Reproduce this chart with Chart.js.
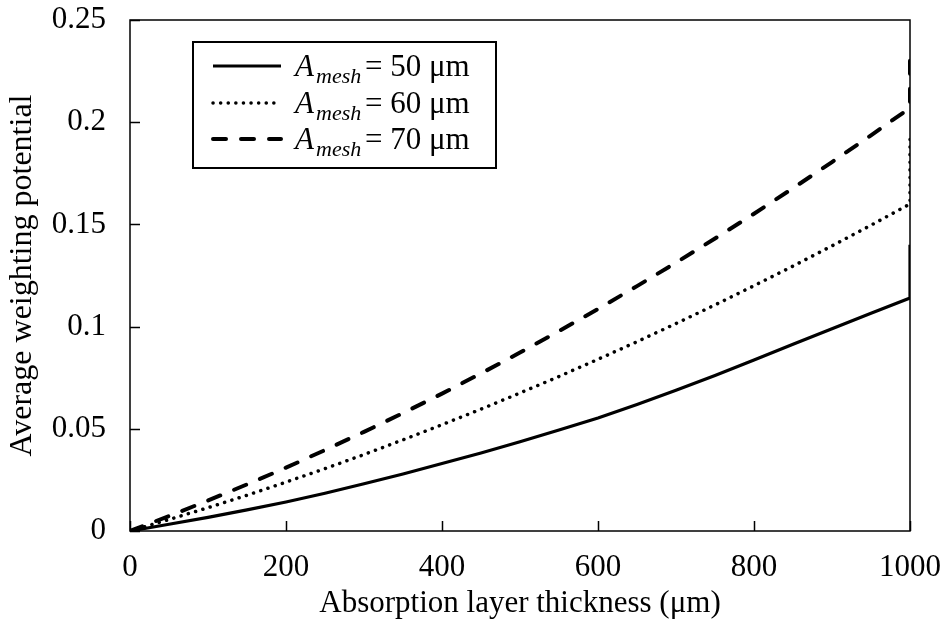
<!DOCTYPE html>
<html>
<head>
<meta charset="utf-8">
<script src="https://cdn.jsdelivr.net/npm/chart.js@4.4.1/dist/chart.umd.min.js"></script>
<style>
  html, body { margin: 0; padding: 0; background: #fff; }
  #wrap { width: 948px; height: 622px; }
</style>
</head>
<body>
<div id="wrap"><canvas id="myChart" width="948" height="622"></canvas></div>
<script>
// absorption layer thickness (um)
var thickness = [0, 50, 100, 150, 200, 250, 300, 350, 400, 450, 500,
                 550, 600, 650, 700, 750, 800, 850, 900, 950, 1000];

var mesh50 = [0, 0.0033, 0.0067, 0.0103, 0.0142, 0.0185, 0.0231, 0.0279, 0.0330, 0.0382, 0.0437,
              0.0494, 0.0553, 0.0619, 0.0689, 0.0761, 0.0837, 0.0914, 0.0990, 0.1065, 0.1140];
var mesh60 = [0, 0.0056, 0.0114, 0.0175, 0.0239, 0.0305, 0.0374, 0.0446, 0.0520, 0.0596, 0.0675,
              0.0756, 0.0840, 0.0926, 0.1015, 0.1106, 0.1200, 0.1296, 0.1395, 0.1496, 0.1600];
var mesh70 = [0, 0.0073, 0.0149, 0.0228, 0.0310, 0.0396, 0.0485, 0.0577, 0.0672, 0.0771, 0.0873,
              0.0978, 0.1086, 0.1198, 0.1313, 0.1431, 0.1552, 0.1677, 0.1805, 0.1936, 0.2070];

// values reached by the short vertical rise at the last thickness
var edgeRise = [0.140, 0.195, 0.235];

var seriesNames = ['50 μm', '60 μm', '70 μm'];
var xTickLabels = ['0', '200', '400', '600', '800', '1000'];
var yTickLabels = ['0', '0.05', '0.1', '0.15', '0.2', '0.25'];

function toPoints(ys, rise) {
    var pts = thickness.map(function(x, i) { return { x: x, y: ys[i] }; });
    pts.push({ x: thickness[thickness.length - 1], y: rise });
    return pts;
}

var serif = '"Liberation Serif", "Times New Roman", serif';

// frame, inward tick marks and the boxed legend
var framePlugin = {
    id: 'frame',
    beforeDatasetsDraw: function(chart) {
        var c = chart.ctx, a = chart.chartArea;
        var xs = chart.scales.x, ys = chart.scales.y;
        c.save();
        c.strokeStyle = '#000';
        c.lineWidth = 1.5;
        c.strokeRect(a.left, a.top, a.right - a.left, a.bottom - a.top);
        c.beginPath();
        xTickLabels.forEach(function(t) {
            var px = Math.round(xs.getPixelForValue(Number(t))) + 0.5;
            c.moveTo(px, a.bottom);
            c.lineTo(px, a.bottom - 10);
        });
        yTickLabels.forEach(function(t) {
            var py = Math.round(ys.getPixelForValue(Number(t))) + 0.5;
            c.moveTo(a.left, py);
            c.lineTo(a.left + 10, py);
        });
        c.stroke();
        c.restore();
    },
    afterDraw: function(chart) {
        var c = chart.ctx;
        c.save();
        c.fillStyle = '#fff';
        c.fillRect(193, 42, 303, 126);
        c.strokeStyle = '#000';
        c.lineWidth = 2;
        c.strokeRect(193, 42, 303, 126);
        var rows = [66, 103, 139];
        chart.data.datasets.forEach(function(ds, i) {
            var y = rows[i];
            c.beginPath();
            c.lineWidth = ds.borderWidth;
            c.lineCap = ds.borderCapStyle || 'butt';
            c.setLineDash(ds.borderDash || []);
            c.moveTo(213, y);
            c.lineTo(281, y);
            c.stroke();
            c.setLineDash([]);
            c.fillStyle = '#000';
            c.textBaseline = 'alphabetic';
            c.textAlign = 'left';
            var base = y + 10;
            c.font = 'italic 31px ' + serif;
            c.fillText('A', 295, base);
            c.font = 'italic 22px ' + serif;
            c.fillText('mesh', 316, base + 7);
            c.font = '31px ' + serif;
            c.fillText('= ' + ds.label, 365, base);
        });
        c.restore();
    }
};

window.onload = function() {
    var ctx = document.getElementById('myChart').getContext('2d');
    var myChart = new Chart(ctx, {
        type: 'line',
        data: {
            datasets: [{
                label: seriesNames[0],
                data: toPoints(mesh50, edgeRise[0]),
                borderColor: '#000',
                borderWidth: 3.2,
                pointRadius: 0,
                fill: false
            }, {
                label: seriesNames[1],
                data: toPoints(mesh60, edgeRise[1]),
                borderColor: '#000',
                borderWidth: 3.5,
                borderDash: [0.1, 7.5],
                borderCapStyle: 'round',
                pointRadius: 0,
                fill: false
            }, {
                label: seriesNames[2],
                data: toPoints(mesh70, edgeRise[2]),
                borderColor: '#000',
                borderWidth: 4,
                borderDash: [13, 15],
                borderCapStyle: 'round',
                pointRadius: 0,
                fill: false
            }]
        },
        options: {
            responsive: false,
            animation: false,
            layout: { padding: { top: 20, right: 38, left: 0, bottom: 0 } },
            plugins: {
                legend: { display: false },
                tooltip: { enabled: false }
            },
            scales: {
                x: {
                    type: 'linear',
                    min: 0,
                    max: 1000,
                    afterFit: function(s) {
                        s.height = 91;
                        s.paddingLeft = 0;
                        s.paddingRight = 0;
                    },
                    afterBuildTicks: function(s) {
                        s.ticks = xTickLabels.map(function(t) { return { value: Number(t) }; });
                    },
                    ticks: {
                        color: '#000',
                        font: { family: serif, size: 31 },
                        padding: 18,
                        maxRotation: 0,
                        callback: function(v, i) { return xTickLabels[i]; }
                    },
                    grid: { display: false, drawTicks: false },
                    border: { display: false },
                    title: {
                        display: true,
                        text: 'Absorption layer thickness (μm)',
                        color: '#000',
                        font: { family: serif, size: 31 },
                        padding: { top: 0, bottom: 0 }
                    }
                },
                y: {
                    type: 'linear',
                    min: 0,
                    max: 0.25,
                    afterFit: function(s) {
                        s.width = 130;
                        s.paddingTop = 0;
                        s.paddingBottom = 0;
                    },
                    afterBuildTicks: function(s) {
                        s.ticks = yTickLabels.map(function(t) { return { value: Number(t) }; });
                    },
                    ticks: {
                        color: '#000',
                        font: { family: serif, size: 31 },
                        padding: 24,
                        callback: function(v, i) { return yTickLabels[i]; }
                    },
                    grid: { display: false, drawTicks: false },
                    border: { display: false },
                    title: {
                        display: true,
                        text: 'Average weighting potential',
                        color: '#000',
                        font: { family: serif, size: 32 },
                        padding: { top: 3, bottom: 0 }
                    }
                }
            }
        },
        plugins: [framePlugin]
    });
};
</script>
</body>
</html>
